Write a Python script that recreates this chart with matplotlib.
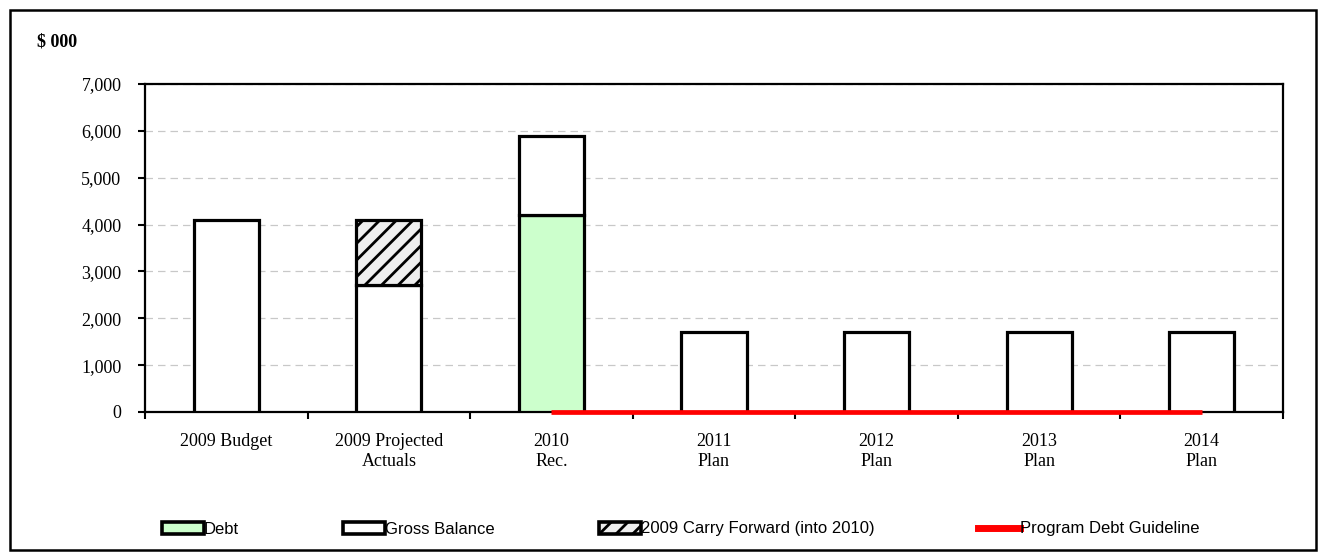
import matplotlib
matplotlib.use("Agg")
import matplotlib.pyplot as plt
from matplotlib.patches import Patch, Rectangle
from matplotlib.lines import Line2D
import numpy as np

categories = ["2009 Budget", "2009 Projected\nActuals", "2010\nRec.",
              "2011\nPlan", "2012\nPlan", "2013\nPlan", "2014\nPlan"]
debt = [0, 0, 4200, 0, 0, 0, 0]
gross_balance = [4100, 2700, 1700, 1700, 1700, 1700, 1700]
carry_forward = [0, 1400, 0, 0, 0, 0, 0]
# guideline only runs from 2010 onward
guideline_idx = [2, 3, 4, 5, 6]
guideline = [0, 0, 0, 0, 0]

plt.rcParams['hatch.linewidth'] = 2.0
serif = "Liberation Serif"
sans = "Liberation Sans"
W, H = 1319, 554

fig = plt.figure(figsize=(W / 100, H / 100), dpi=100)
ax = fig.add_axes([145 / W, 1 - 412 / H, (1283 - 145) / W, (412 - 84) / H])

x = np.arange(len(categories))
w = 0.4
edge = dict(edgecolor="black", linewidth=2.3)
ax.bar(x, debt, w, color="#ccffcc", **edge, zorder=3)
ax.bar(x, gross_balance, w, bottom=debt, color="white", **edge, zorder=3)
bottom2 = np.array(debt) + np.array(gross_balance)
for i, v in enumerate(carry_forward):
    if v:
        ax.bar(x[i], v, w, bottom=bottom2[i], color="#eeeeee", hatch="//", **edge, zorder=3)
ax.plot(guideline_idx, guideline, color="red", linewidth=3.4, zorder=5,
        solid_capstyle="butt", clip_on=False)

ax.set_xlim(-0.5, len(categories) - 0.5)
ax.set_ylim(0, 7000)
ax.set_yticks(np.arange(0, 7001, 1000))
ax.set_yticklabels([f"{v:,}" for v in range(0, 7001, 1000)], fontfamily=serif, fontsize=13)
ax.yaxis.grid(True, linestyle=(0, (6, 4)), color="#c8c8c8", linewidth=0.9, zorder=0)
ax.set_axisbelow(True)

# major ticks at category boundaries, labels on minor ticks
ax.set_xticks(np.arange(-0.5, len(categories)))
ax.set_xticklabels([])
ax.set_xticks(x, minor=True)
ax.set_xticklabels(categories, minor=True, fontfamily=serif, fontsize=13, linespacing=1.25)
ax.tick_params(axis="x", which="minor", length=0, pad=15)
ax.tick_params(axis="x", which="major", length=5, width=1.5, direction="out")
ax.tick_params(axis="y", length=5, width=1.5, direction="out", pad=12)
for s in ax.spines.values():
    s.set_linewidth(1.6)

fig.text(37 / W, 1 - 42 / H, "$ 000", fontfamily=serif, fontweight="bold",
         fontsize=13, va="center", ha="left")

handles = [
    Patch(facecolor="#ccffcc", edgecolor="black", linewidth=2.6),
    Patch(facecolor="white", edgecolor="black", linewidth=2.6),
    Patch(facecolor="#eeeeee", edgecolor="black", linewidth=2.6, hatch="//"),
    Line2D([], [], color="red", linewidth=5),
]
labels = ["Debt", "Gross Balance", "2009 Carry Forward (into 2010)", "Program Debt Guideline"]
starts = [162, 343, 599, 978]
for h, lab, x0 in zip(handles, labels, starts):
    fig.legend([h], [lab], loc="center left", bbox_to_anchor=(x0 / W, 1 - 529 / H),
               frameon=False, prop={"family": sans, "size": 12}, handlelength=2.5,
               handleheight=0.72, handletextpad=0.0, borderpad=0, borderaxespad=0)

fig.patches.append(Rectangle((10 / W, 4 / H), 1306 / W, 540 / H,
                             transform=fig.transFigure, fill=False,
                             edgecolor="black", linewidth=1.8))

fig.savefig("out.png", dpi=100)
